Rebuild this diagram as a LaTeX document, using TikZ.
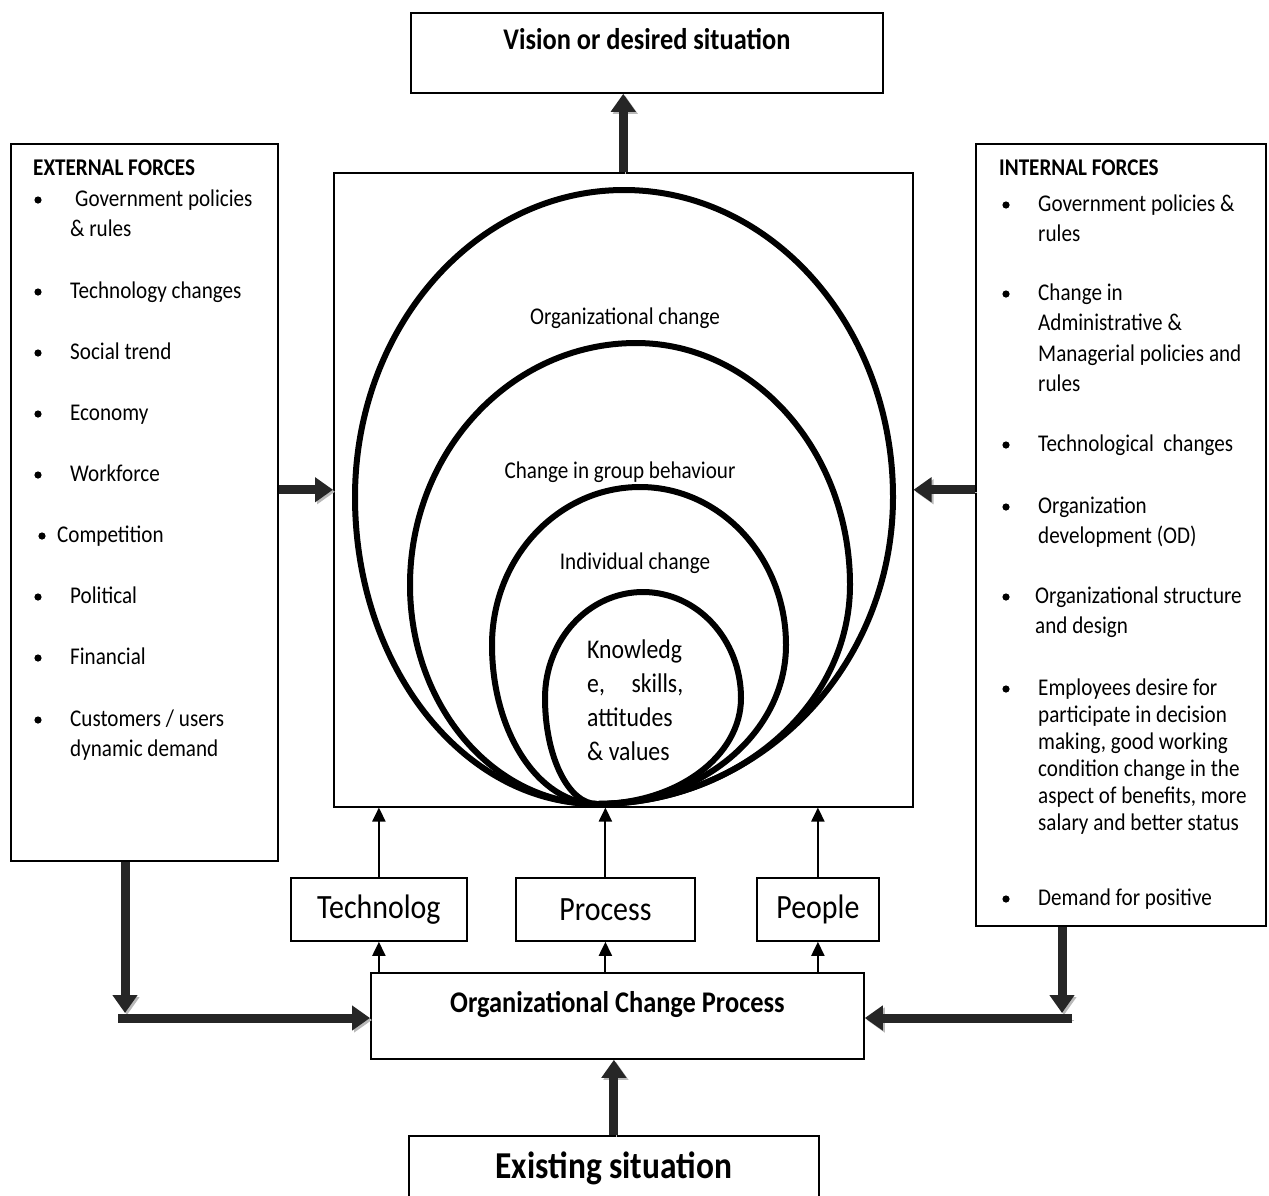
\documentclass[tikz,border=0pt]{standalone}
\usepackage{fontspec}
\setmainfont{Carlito}[FakeStretch=0.88]
\usetikzlibrary{arrows.meta,positioning}

% closed ring through bottom, left, top and right points
\newcommand{\ringpath}[8]{%
  \draw[ring] (#1,#2) .. controls ({#1+0.552*(#7-#1)},#2) and (#7,{#8+0.552*(#2-#8)}) .. (#7,#8)
    .. controls (#7,{#8-0.552*(#8-#6)}) and ({#5+0.552*(#7-#5)},#6) .. (#5,#6)
    .. controls ({#5-0.552*(#5-#3)},#6) and (#3,{#4-0.552*(#4-#6)}) .. (#3,#4)
    .. controls (#3,{#4+0.552*(#2-#4)}) and ({#1-0.552*(#1-#3)},#2) .. cycle;}

\begin{document}
\begin{tikzpicture}[x=1pt, y=-1pt,
    box/.style={draw, line width=1.8pt, inner sep=0pt, anchor=north west},
    title/.style={inner sep=0pt, font=\bfseries\fontsize{30}{36}\selectfont},
    listtext/.style={anchor=base west, inner sep=0pt, font=\fontsize{24}{30}\selectfont},
    ringtext/.style={inner sep=0pt, font=\fontsize{24}{30}\selectfont},
    tagbox/.style={box, minimum height=63pt, font=\fontsize{34}{40}\selectfont},
    ring/.style={line width=6pt},
    thin/.style={line width=2pt, -{Triangle[length=14pt,width=13pt]}},
    fat/.style={line width=9pt, draw=black!85, -{Triangle[length=18pt,width=24pt]},
      preaction={draw=gray!55, transform canvas={shift={(2pt,-2pt)}}}}]
  \useasboundingbox (0,0) rectangle (1269,1195);

  % Top: desired situation
  \node[box, minimum width=472pt, minimum height=80pt] (vision) at (410,12) {};
  \node[title, below=16pt of vision.north] (visiontext) {Vision or desired situation};

  % Centre frame with nested rings
  \node[box, line width=1.5pt, minimum width=579pt, minimum height=634pt] (frame) at (333,172) {};
  \ringpath{597}{804}{355}{497}{624}{190}{893}{497}
  \ringpath{597}{804}{410}{585}{636}{343}{850}{585}
  \ringpath{597}{804}{492}{645}{640}{487}{786}{645}
  \ringpath{597}{804}{545}{698}{643}{592}{741}{698}
  \node[ringtext] (orgchange) at (625,318) {Organizational change};
  \node[ringtext] (groupchange) at (620,472) {Change in group behaviour};
  \node[ringtext] (indchange) at (635,563) {Individual change};
  \node[inner sep=0pt, anchor=north west, align=left, font=\fontsize{27}{34}\selectfont] (core) at (587,640)
    {Knowledg\\\hbox to 96pt{e,\hfill skills,}\\attitudes\\\& values};

  % Left: external forces
  \node[box, minimum width=267pt, minimum height=717pt] (ext) at (10,143) {};
  \node[listtext, font=\bfseries\fontsize{24}{30}\selectfont] (exthead) at (33,175) {EXTERNAL FORCES};
  \foreach \x/\y/\t [count=\i] in {75/206/Government policies, 70/236/\& rules, 70/298/Technology changes,
      70/359/Social trend, 70/420/Economy, 70/481/Workforce, 57/542/Competition, 70/603/Political,
      70/664/Financial, 70/726/{Customers / users}, 70/756/dynamic demand}
    \node[listtext] (ext\i) at (\x,\y) {\t};
  \foreach \x/\y in {38/200, 38/292, 38/353, 38/414, 38/475, 42/536, 38/597, 38/658, 38/720}
    \fill (\x,\y) circle (3.6);

  % Right: internal forces
  \node[box, minimum width=290pt, minimum height=782pt] (int) at (975,143) {};
  \node[listtext, font=\bfseries\fontsize{24}{30}\selectfont] (inthead) at (999,175) {INTERNAL FORCES};
  \foreach \x/\y/\t [count=\i] in {1038/211/Government policies \&, 1038/241/rules, 1038/300/Change in,
      1038/330/Administrative \&, 1038/361/Managerial policies and, 1038/391/rules,
      1038/451/Technological\ \ changes, 1038/513/Organization, 1038/543/development (OD),
      1035/603/Organizational structure, 1035/633/and design, 1038/695/Employees desire for,
      1038/722/participate in decision, 1038/749/{making, good working}, 1038/776/condition change in the,
      1038/803/{aspect of benefits, more}, 1038/830/salary and better status, 1038/905/Demand for positive}
    \node[listtext] (int\i) at (\x,\y) {\t};
  \foreach \y in {205, 294, 445, 507, 597, 689, 899}
    \fill (1006,\y) circle (3.6);

  % Bottom: change levers and process
  \node[tagbox, minimum width=176pt] (tech) at (290,877) {Technolog};
  \node[tagbox, minimum width=179pt] (proc) at (515,877) {Process};
  \node[tagbox, minimum width=122pt] (people) at (756,877) {People};
  \node[box, minimum width=493pt, minimum height=86pt] (ocp) at (370,972) {};
  \node[title, font=\bfseries\fontsize{30}{36}\selectfont, below=19pt of ocp.north] (ocptext) {Organizational Change Process};
  \node[box, minimum width=410pt, minimum height=80pt] (exist) at (408,1135) {};
  \node[title, font=\bfseries\fontsize{38}{44}\selectfont, below=17pt of exist.north] (existtext) {Existing situation};

  % Thin arrows
  \foreach \n in {tech, proc, people} {
    \draw[thin] (ocp.north -| \n) -- (\n.south);
    \draw[thin] (\n.north) -- (\n.north |- frame.south);
  }

  % Thick arrows
  \coordinate (extbend) at (125,1018);
  \coordinate (intbend) at (1062,1018);
  \draw[fat] (frame.north) -- (frame.north |- vision.south);
  \draw[fat] (exist.north) -- (exist.north |- ocp.south);
  \draw[fat] (ext.east |- frame.west) -- (frame.west);
  \draw[fat] (int.west |- frame.east) -- (frame.east);
  \draw[fat] (extbend |- ext.south) -- ([yshift=5pt]extbend);
  \draw[fat] ([xshift=-7pt]extbend) -- (extbend -| ocp.west);
  \draw[fat] (intbend |- int.south) -- ([yshift=5pt]intbend);
  \draw[fat] ([xshift=10pt]intbend) -- (intbend -| ocp.east);
\end{tikzpicture}
\end{document}
